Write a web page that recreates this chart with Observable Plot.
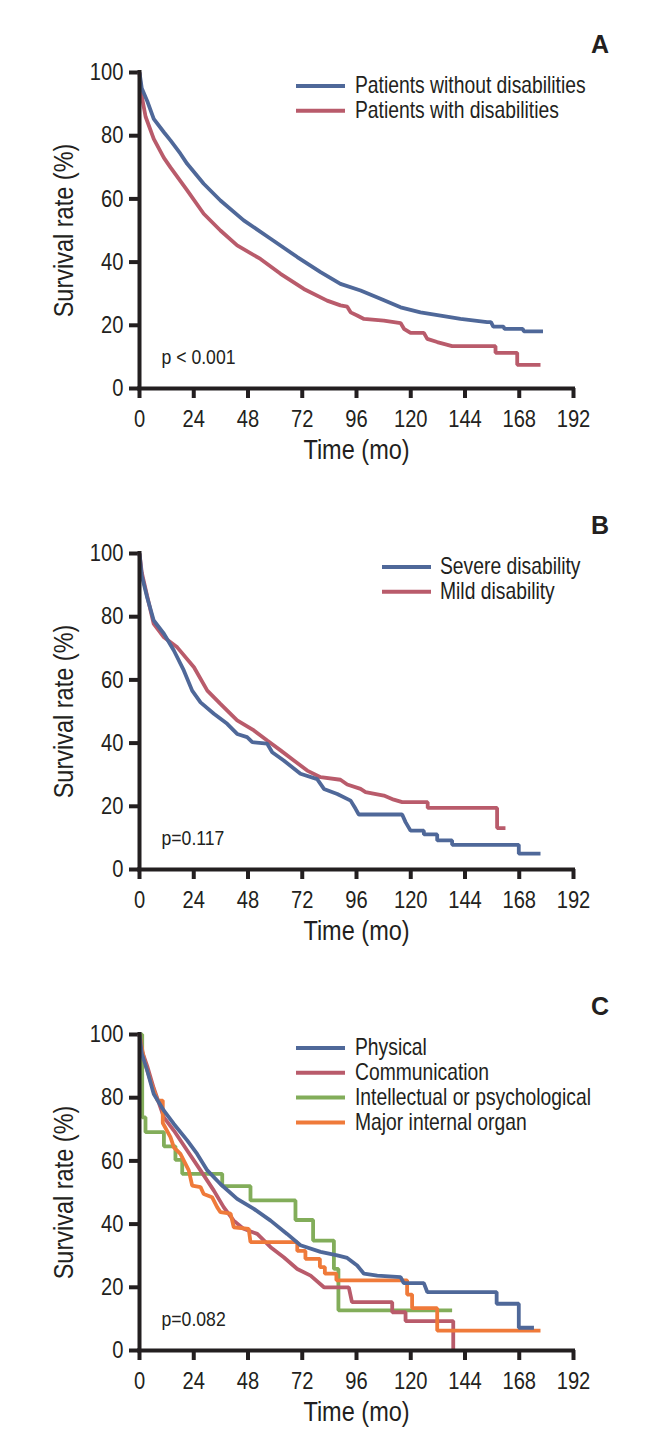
<!DOCTYPE html>
<html>
<head>
<meta charset="utf-8">
<script src="https://cdn.jsdelivr.net/npm/d3@7"></script>
<script src="https://cdn.jsdelivr.net/npm/@observablehq/plot@0.6"></script>
<style>
  body { margin: 0; background: #fff; }
  #root { position: relative; width: 661px; height: 1449px; }
  .panel { position: absolute; left: 0; width: 661px; }
</style>
</head>
<body>
<div id="root"></div>
<script>
// ---------- tick labels ----------
const xTicks = [0, 24, 48, 72, 96, 120, 144, 168, 192];
const yTicks = [0, 20, 40, 60, 80, 100];

// ---------- Panel A ----------
const aNames = ["Patients without disabilities", "Patients with disabilities"];
const aWithoutT = [0, 1, 3.4, 6.3, 10.8, 13.7, 18.1, 21.1, 28.4, 35.8, 46.1, 58, 69.8, 80.1, 88.9, 97.8, 106.6, 115.5, 124.3, 133.2, 142, 153.8, 155.5, 156.5, 161, 161.5, 169.5, 170, 178.5];
const aWithoutS = [100, 95, 91, 85.3, 81.1, 78.5, 74.3, 71.1, 64.8, 59.5, 53.2, 47.4, 41.6, 36.8, 33.1, 31.0, 28.4, 25.7, 24.1, 23.1, 22.0, 21.0, 21.0, 19.6, 19.6, 18.9, 18.9, 18.1, 18.1];
const aWithT = [0, 0.7, 2.7, 6.3, 10.8, 13.7, 21.1, 28.4, 35.8, 43.2, 53.5, 62.4, 72.7, 83.0, 88.9, 91.9, 93.4, 96.3, 99.3, 108.1, 115.5, 117, 119.9, 125.8, 127.3, 131.7, 138.3, 157.5, 157.5, 167.1, 167.1, 177.4];
const aWithS = [100, 93.6, 86, 79, 73, 70, 62.7, 55.3, 50, 45.3, 41.0, 36.3, 31.5, 27.8, 26.3, 25.9, 24.1, 23.1, 22.0, 21.5, 20.7, 18.9, 17.6, 17.6, 15.7, 14.7, 13.4, 13.4, 11.3, 11.3, 7.5, 7.5];

// ---------- Panel B ----------
const bNames = ["Severe disability", "Mild disability"];
const bSevereT = [0, 1, 3.4, 6.3, 10.8, 15.2, 19.6, 23.3, 27, 32.9, 38.8, 43.2, 47.6, 49.9, 56.5, 58.7, 63.8, 71.2, 78.6, 81.6, 87.5, 93.4, 95.6, 97, 116.2, 117.7, 119.9, 125.8, 125.8, 131.7, 131.7, 138.3, 138.3, 167.8, 167.8, 177.4];
const bSevereS = [100, 93, 86.1, 78.8, 74.6, 69.3, 63, 56.6, 52.9, 49.3, 46.1, 42.9, 41.9, 40.3, 39.8, 37.1, 34.5, 30.3, 28.6, 25.5, 23.9, 21.8, 19.2, 17.4, 17.4, 15.0, 12.3, 12.3, 11.1, 11.1, 9.2, 9.2, 7.8, 7.8, 5.0, 5.0];
const bMildT = [0, 1, 3.4, 6.3, 10.8, 16.7, 24.1, 30, 35.8, 43.2, 50.6, 56.5, 62.4, 68.3, 74.2, 80.1, 88.9, 91.9, 97.8, 100, 108.1, 112.5, 116.2, 127.5, 127.5, 158.2, 158.2, 161.9];
const bMildS = [100, 94, 86.5, 77.7, 73.5, 70.3, 64, 56.6, 52.4, 47.2, 44, 40.8, 37.7, 34.5, 31.3, 29.2, 28.4, 26.9, 25.5, 24.5, 23.4, 22.1, 21.3, 21.3, 19.5, 19.5, 13.1, 13.1];

// ---------- Panel C ----------
const cNames = ["Physical", "Communication", "Intellectual or psychological", "Major internal organ"];
const cPhysT = [0, 1, 3.4, 6.3, 10.8, 15.2, 21.1, 25.5, 30, 35.8, 43.2, 50.6, 58, 65.3, 71.2, 80.1, 87.5, 91.9, 96.3, 99.3, 105.2, 115.5, 116.9, 125.8, 127.3, 158, 158, 167.8, 167.8, 174.5];
const cPhysS = [100, 94, 88.6, 81.2, 75.9, 71.7, 66.5, 62.2, 57, 52.7, 48, 44.8, 41.1, 36.9, 33.3, 31.2, 30.1, 29.3, 26.9, 24.3, 23.7, 23.2, 21.3, 21.3, 18.5, 18.5, 14.8, 14.8, 7.2, 7.2];
const cCommT = [0, 1, 3.4, 6.3, 10.8, 15.2, 21.1, 27, 32.9, 37.3, 41.7, 46.1, 52.1, 58, 63.8, 69.8, 75.7, 81.6, 92.6, 94, 111.8, 111.8, 117.7, 117.7, 138.8, 138.8];
const cCommS = [100, 95, 90, 83, 73.8, 69.6, 63.3, 57, 50.6, 45.3, 41.1, 38.5, 36.9, 32.7, 29.5, 25.8, 23.7, 20.0, 20.0, 15.3, 15.3, 12.1, 12.1, 9.3, 9.3, 0];
const cIntelT = [0, 1.2, 1.2, 2.65, 2.65, 10.8, 10.8, 15.9, 15.9, 18.9, 18.9, 36.6, 36.6, 49.1, 49.1, 69, 69, 76.8, 76.8, 86, 86, 88, 88, 138.3];
const cIntelS = [100, 100, 73.8, 73.8, 69.1, 69.1, 64.6, 64.6, 60.3, 60.3, 55.9, 55.9, 52, 52, 47.5, 47.5, 41.3, 41.3, 34.8, 34.8, 25.8, 25.8, 12.7, 12.7];
const cOrganT = [0, 2, 5, 8, 10.3, 10.3, 13.7, 15.2, 18.1, 21.8, 23.3, 27, 28.4, 32.1, 34.4, 35.8, 40.3, 41.7, 48.3, 49.1, 69.8, 69.8, 73.4, 73.4, 79.8, 79.8, 82, 82, 87.1, 87.1, 118.4, 118.4, 120.6, 120.6, 131.7, 131.7, 177.4];
const cOrganS = [100, 92, 85, 79.1, 79.1, 72, 67.5, 64.3, 62.2, 57, 52.2, 51.7, 49.5, 48.5, 45.3, 43.8, 43.3, 39.0, 38.5, 34.3, 34.3, 31.5, 31.5, 29.0, 29.0, 26.4, 26.4, 24.3, 24.3, 22.2, 22.2, 17.7, 17.7, 13.4, 13.4, 6.3, 6.3];

// ---------- colours & text ----------
const cBlue = "#4f6899", cRed = "#b95b6b", cGreen = "#82ad5a", cOrange = "#ef7a3a";
const pValues = ["p < 0.001", "p=0.117", "p=0.082"];
const letters = ["A", "B", "C"];
const xTitle = "Time (mo)";
const yTitle = "Survival rate (%)";
const INK = "#231f20";
const FONT = '"Liberation Sans", Arial, sans-serif';
const CONDENSE = 0.84; // horizontal squeeze to mimic a condensed face

function rows(name, t, s) { return t.map((ti, i) => ({group: name, time: ti, surv: s[i]})); }

const panels = [
  {top: 0, letter: letters[0], p: pValues[0], names: aNames, colors: [cBlue, cRed],
   series: [rows(aNames[1], aWithT, aWithS), rows(aNames[0], aWithoutT, aWithoutS)],
   legX: 296, legTextX: 355},
  {top: 481, letter: letters[1], p: pValues[1], names: bNames, colors: [cBlue, cRed],
   series: [rows(bNames[1], bMildT, bMildS), rows(bNames[0], bSevereT, bSevereS)],
   legX: 382, legTextX: 440},
  {top: 962, letter: letters[2], p: pValues[2], names: cNames, colors: [cBlue, cRed, cGreen, cOrange],
   series: [rows(cNames[2], cIntelT, cIntelS), rows(cNames[1], cCommT, cCommS), rows(cNames[3], cOrganT, cOrganS), rows(cNames[0], cPhysT, cPhysS)],
   legX: 296, legTextX: 355}
];

function condense(svg) {
  d3.select(svg).selectAll("text:not(.nocondense)").each(function () {
    const el = d3.select(this);
    let x = parseFloat(el.attr("x"));
    if (!isFinite(x) || /em/.test(el.attr("x") || "")) x = 0;
    const t = el.attr("transform") || "";
    el.attr("transform", `${t} translate(${x},0) scale(${CONDENSE},1) translate(${-x},0)`);
  });
}

const root = document.getElementById("root");
for (const cfg of panels) {
  const marks = [
    Plot.axisX({ticks: xTicks, tickSize: 10, tickPadding: 11, strokeWidth: 4, fontSize: 24, label: null}),
    Plot.axisY({ticks: yTicks, tickSize: 10, tickPadding: 6, strokeWidth: 4, fontSize: 24, label: null}),
    ...cfg.series.map(d => Plot.line(d, {x: "time", y: "surv", stroke: "group", strokeWidth: 3.8, strokeLinejoin: "miter", strokeLinecap: "butt"})),
    Plot.ruleX([0], {stroke: INK, strokeWidth: 4, strokeLinecap: "square"}),
    Plot.ruleY([0], {stroke: INK, strokeWidth: 4, strokeLinecap: "square"}),
    Plot.text([cfg.p], {text: d => d, frameAnchor: "bottom-left", dx: 22, dy: -25, textAnchor: "start", lineAnchor: "bottom", fontSize: 21, fill: INK}),
    Plot.text([xTitle], {text: d => d, frameAnchor: "bottom", dy: 70, textAnchor: "middle", lineAnchor: "bottom", fontSize: 28, fill: INK}),
    Plot.text([yTitle], {text: d => d, frameAnchor: "left", dx: -67, rotate: -90, textAnchor: "middle", lineAnchor: "bottom", fontSize: 28, fill: INK})
  ];
  const svg = Plot.plot({
    width: 661, height: 481,
    marginLeft: 139, marginRight: 88, marginTop: 72, marginBottom: 93,
    x: {domain: [0, 192], ticks: xTicks},
    y: {domain: [0, 100], ticks: yTicks},
    color: {domain: cfg.names, range: cfg.colors},
    style: {fontFamily: FONT, fontSize: "24px", color: INK, background: "transparent", overflow: "visible"},
    marks
  });
  const g = d3.select(svg).append("g").attr("font-family", FONT).attr("fill", INK);
  g.append("text").attr("class", "nocondense").attr("x", 609).attr("y", 53).attr("text-anchor", "end")
    .attr("font-weight", "bold").attr("font-size", 25).text(cfg.letter);
  cfg.names.forEach((n, i) => {
    const y = 86 + i * 24.8;
    g.append("line").attr("x1", cfg.legX).attr("x2", cfg.legX + 49).attr("y1", y).attr("y2", y)
      .attr("stroke", cfg.colors[i]).attr("stroke-width", 4);
    g.append("text").attr("x", cfg.legTextX).attr("y", y + 7.5).attr("text-anchor", "start")
      .attr("font-size", 23).text(n);
  });
  condense(svg);
  const div = document.createElement("div");
  div.className = "panel";
  div.style.top = cfg.top + "px";
  div.appendChild(svg);
  root.appendChild(div);
}
</script>
</body>
</html>
